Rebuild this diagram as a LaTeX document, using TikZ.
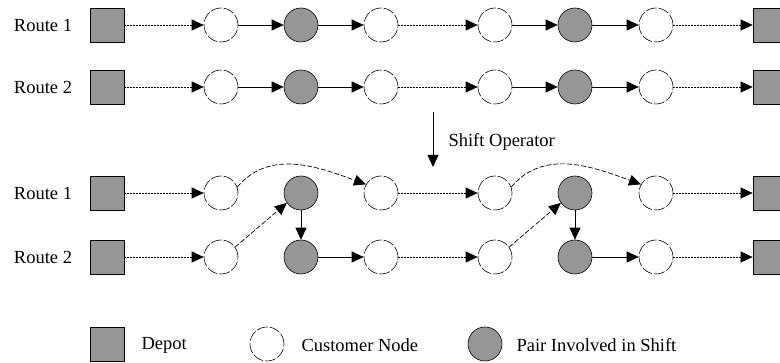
\documentclass[tikz,border=0pt]{standalone}
\usepackage{fontspec}
\setmainfont{Liberation Serif}
\usetikzlibrary{arrows.meta}
\definecolor{shiftgray}{RGB}{150,150,150}

\begin{document}
\begin{tikzpicture}[x=1pt, y=1pt,
  depot/.style={draw, fill=shiftgray, minimum size=34pt, inner sep=0pt, line width=.8pt},
  cust/.style={draw, circle, dash pattern=on 11pt off 2pt, minimum size=34pt, inner sep=0pt, line width=.6pt},
  pair/.style={draw, circle, fill=shiftgray, minimum size=34pt, inner sep=0pt, line width=.6pt},
  lab/.style={font=\fontsize{18.5}{22}\selectfont},
  tip/.style={-{Triangle[length=12pt,width=11pt]}},
  link/.style={tip, line width=.9pt},
  dotlink/.style={tip, line width=.7pt, dash pattern=on 1.2pt off 1.8pt},
  shiftlink/.style={tip, line width=.7pt, dash pattern=on 5pt off 2pt}]

\useasboundingbox (0,0) rectangle (780,363);

% before the shift
\node [lab] (lab1) at (43,338) {Route 1};
\node [lab] (lab2) at (43,276) {Route 2};
\node [depot] (r1d0) at (107,338) {};
\node [cust]  (r1c1) at (221,338) {};
\node [pair]  (r1c2) at (301,338) {};
\node [cust]  (r1c3) at (381,338) {};
\node [cust]  (r1c4) at (495,338) {};
\node [pair]  (r1c5) at (575,338) {};
\node [cust]  (r1c6) at (656,338) {};
\node [depot] (r1d1) at (770,338) {};

\node [depot] (r2d0) at (107,276) {};
\node [cust]  (r2c1) at (221,276) {};
\node [pair]  (r2c2) at (301,276) {};
\node [cust]  (r2c3) at (381,276) {};
\node [cust]  (r2c4) at (495,276) {};
\node [pair]  (r2c5) at (575,276) {};
\node [cust]  (r2c6) at (656,276) {};
\node [depot] (r2d1) at (770,276) {};

\draw [dotlink] (r1d0) -- (r1c1);
\draw [link] (r1c1) -- (r1c2);
\draw [link] (r1c2) -- (r1c3);
\draw [dotlink] (r1c3) -- (r1c4);
\draw [link] (r1c4) -- (r1c5);
\draw [link] (r1c5) -- (r1c6);
\draw [dotlink] (r1c6) -- (r1d1);

\draw [dotlink] (r2d0) -- (r2c1);
\draw [link] (r2c1) -- (r2c2);
\draw [link] (r2c2) -- (r2c3);
\draw [dotlink] (r2c3) -- (r2c4);
\draw [link] (r2c4) -- (r2c5);
\draw [link] (r2c5) -- (r2c6);
\draw [dotlink] (r2c6) -- (r2d1);

% operator
\coordinate (opA) at (433,251);
\coordinate (opB) at (433,196);
\draw [link] (opA) -- (opB);
\node [lab, anchor=west] (opLab) at (445,221) {Shift Operator};

% after the shift
\node [lab] (lab3) at (43,170) {Route 1};
\node [lab] (lab4) at (43,106) {Route 2};
\node [depot] (r3d0) at (107,170) {};
\node [cust]  (r3c1) at (221,170) {};
\node [pair]  (r3c2) at (301,170) {};
\node [cust]  (r3c3) at (381,170) {};
\node [cust]  (r3c4) at (495,170) {};
\node [pair]  (r3c5) at (575,170) {};
\node [cust]  (r3c6) at (656,170) {};
\node [depot] (r3d1) at (770,170) {};

\node [depot] (r4d0) at (107,106) {};
\node [cust]  (r4c1) at (221,106) {};
\node [pair]  (r4c2) at (301,106) {};
\node [cust]  (r4c3) at (381,106) {};
\node [cust]  (r4c4) at (495,106) {};
\node [pair]  (r4c5) at (575,106) {};
\node [cust]  (r4c6) at (656,106) {};
\node [depot] (r4d1) at (770,106) {};

\draw [dotlink] (r3d0) -- (r3c1);
\draw [shiftlink] (r3c1.20) to [out=50, in=160] (r3c3.150);
\draw [dotlink] (r3c3) -- (r3c4);
\draw [shiftlink] (r3c4.20) to [out=50, in=160] (r3c6.150);
\draw [dotlink] (r3c6) -- (r3d1);

\draw [dotlink] (r4d0) -- (r4c1);
\draw [shiftlink] (r4c1.35) -- (r3c2.215);
\draw [link] (r3c2) -- (r4c2);
\draw [link] (r4c2) -- (r4c3);
\draw [dotlink] (r4c3) -- (r4c4);
\draw [shiftlink] (r4c4.35) -- (r3c5.215);
\draw [link] (r3c5) -- (r4c5);
\draw [link] (r4c5) -- (r4c6);
\draw [dotlink] (r4c6) -- (r4d1);

% legend
\node [depot] (kD) at (107,19) {};
\node [lab, anchor=west] (kDlab) at (138,18) {Depot};
\node [cust] (kC) at (267,19) {};
\node [lab, anchor=west] (kClab) at (298,18) {Customer Node};
\node [pair] (kP) at (485,19) {};
\node [lab, anchor=west] (kPlab) at (513,18) {Pair Involved in Shift};

\end{tikzpicture}
\end{document}
